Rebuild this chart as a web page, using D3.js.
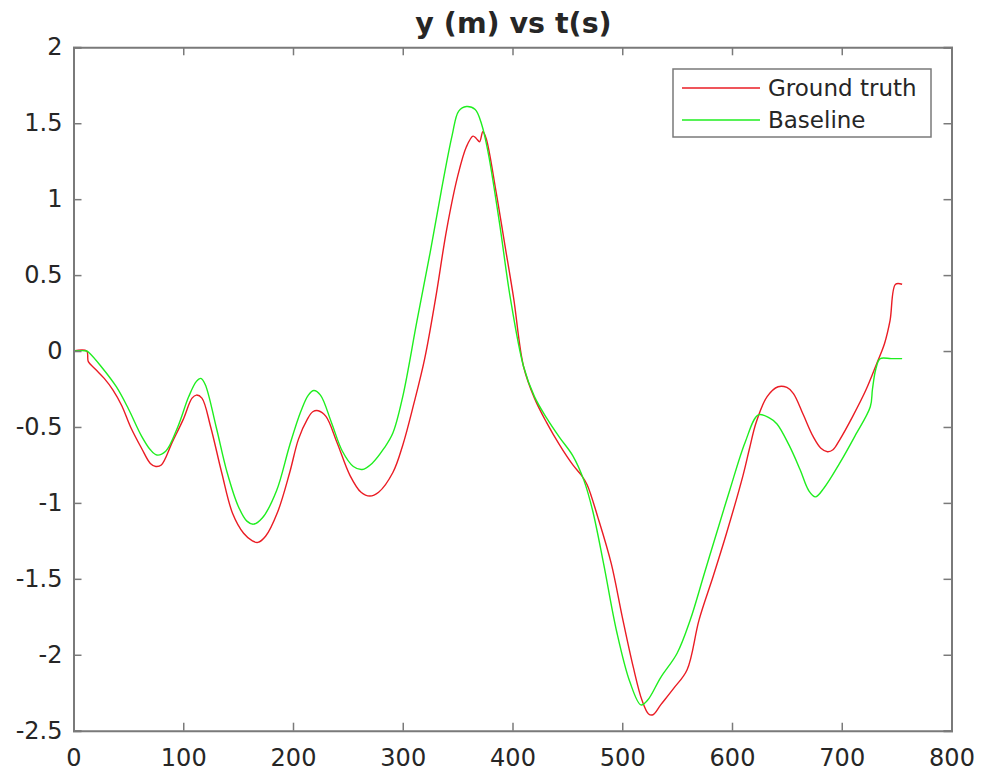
<!DOCTYPE html>
<html>
<head>
<meta charset="utf-8">
<script src="https://cdn.jsdelivr.net/npm/d3@7"></script>
<style>
  body { margin: 0; background: #fff; }
  svg text { font-family: "DejaVu Sans", sans-serif; fill: #262626; }
</style>
</head>
<body>
<svg width="982" height="775"></svg>
<script>
// values
const truthT = [0, 12, 13.5, 20, 28, 36, 44, 52, 62, 70, 75, 80, 90, 100, 108, 112, 117, 125, 135, 145, 155, 163, 168, 175, 186, 197, 205, 213, 218, 223, 230, 240, 252, 262, 270, 278, 291, 300, 310, 320, 330, 340, 350, 358, 364, 367, 370, 373, 376, 385, 393, 401, 410, 420, 431, 443, 455, 463, 468, 478, 490, 500, 510, 518, 524, 528, 535, 547, 559, 570, 583, 595, 610, 616, 622, 632, 642, 650, 656, 665, 674, 681, 687, 692, 698, 710, 722, 732, 739, 744, 749, 755];
const truthY = [0, 0, -0.07, -0.12, -0.18, -0.257, -0.36, -0.5, -0.64, -0.74, -0.76, -0.75, -0.6, -0.45, -0.31, -0.29, -0.31, -0.5, -0.8, -1.07, -1.2, -1.25, -1.26, -1.22, -1.06, -0.8, -0.58, -0.45, -0.4, -0.393, -0.43, -0.6, -0.82, -0.93, -0.955, -0.93, -0.8, -0.62, -0.35, -0.05, 0.35, 0.8, 1.15, 1.345, 1.415, 1.4, 1.378, 1.444, 1.4, 1.05, 0.7, 0.35, -0.1, -0.31, -0.47, -0.62, -0.75, -0.82, -0.88, -1.1, -1.4, -1.75, -2.08, -2.3, -2.39, -2.395, -2.33, -2.22, -2.1, -1.77, -1.48, -1.2, -0.82, -0.64, -0.47, -0.3, -0.235, -0.24, -0.28, -0.42, -0.564, -0.64, -0.663, -0.65, -0.586, -0.43, -0.257, -0.08, 0.05, 0.2, 0.44, 0.44];

const baseT = [0, 12, 14, 25, 39, 50, 62, 70, 76, 84, 95, 105, 112, 116, 120, 130, 140, 150, 158, 164, 172, 185, 197, 207, 214, 219, 225, 235, 245, 255, 263, 272, 283, 291, 300, 313, 325, 335, 345, 351, 358, 366, 372, 378, 388, 398, 410, 420, 431, 443, 455, 465, 473, 483, 495, 507, 517, 523, 535, 550, 562, 575, 588, 598, 612, 624, 634, 641, 652, 662, 670, 676, 684, 698, 712, 726, 728, 731, 735, 745, 755];
const baseY = [0, 0, -0.01, -0.1, -0.235, -0.38, -0.56, -0.65, -0.685, -0.66, -0.5, -0.3, -0.2, -0.18, -0.22, -0.5, -0.8, -1.02, -1.12, -1.14, -1.1, -0.92, -0.62, -0.4, -0.29, -0.26, -0.29, -0.47, -0.66, -0.76, -0.78, -0.74, -0.64, -0.54, -0.3, 0.2, 0.65, 1.05, 1.42, 1.58, 1.61, 1.59, 1.49, 1.3, 0.85, 0.35, -0.1, -0.3, -0.44, -0.57, -0.69, -0.85, -1.05, -1.4, -1.85, -2.18, -2.33, -2.3, -2.15, -1.99, -1.77, -1.46, -1.15, -0.915, -0.6, -0.42, -0.44, -0.48, -0.62, -0.78, -0.92, -0.96, -0.9, -0.74, -0.56, -0.367, -0.25, -0.12, -0.05, -0.05, -0.05];

const xTicks = [0, 100, 200, 300, 400, 500, 600, 700, 800];
const yTicks = [-2.5, -2, -1.5, -1, -0.5, 0, 0.5, 1, 1.5, 2];

const series = [
  { name: "Ground truth", t: truthT, y: truthY, color: "#ea1c24" },
  { name: "Baseline", t: baseT, y: baseY, color: "#1fee1f" }
];

const svg = d3.select("svg");
const plotL = 73.5, plotR = 951.5, plotT = 47.3, plotB = 730.7;

const x = d3.scaleLinear().domain([0, 800]).range([plotL, plotR]);
const y = d3.scaleLinear().domain([-2.5, 2]).range([plotB, plotT]);

// lines
const line = d3.line()
  .x(d => x(d[0]))
  .y(d => y(d[1]))
  .curve(d3.curveCatmullRom.alpha(0.5));

svg.append("g").selectAll("path")
  .data(series)
  .enter()
  .append("path")
  .attr("d", s => line(s.t.map((t, i) => [t, s.y[i]])))
  .attr("fill", "none")
  .attr("stroke", s => s.color)
  .attr("stroke-width", 1.4);

// axes (matlab box style, ticks inward)
const axisColor = "#7a7a7a";
const xAxisB = svg.append("g").attr("transform", "translate(0," + plotB + ")")
  .call(d3.axisBottom(x).tickValues(xTicks).tickSize(-8).tickPadding(18).tickFormat(d3.format("d")));
const xAxisT = svg.append("g").attr("transform", "translate(0," + plotT + ")")
  .call(d3.axisTop(x).tickValues(xTicks).tickSize(-8).tickFormat(""));
const yAxisL = svg.append("g").attr("transform", "translate(" + plotL + ",0)")
  .call(d3.axisLeft(y).tickValues(yTicks).tickSize(-8).tickPadding(11).tickFormat(d => d));
const yAxisR = svg.append("g").attr("transform", "translate(" + plotR + ",0)")
  .call(d3.axisRight(y).tickValues(yTicks).tickSize(-8).tickFormat(""));

[xAxisB, xAxisT, yAxisL, yAxisR].forEach(g => {
  g.select(".domain").attr("stroke", axisColor).attr("stroke-width", 2);
  g.selectAll(".tick line").attr("stroke", axisColor).attr("stroke-width", 1.5);
  g.selectAll(".tick text").attr("font-size", 24).attr("fill", "#262626")
    .style("font-family", "DejaVu Sans, sans-serif");
});

// title
svg.append("text")
  .attr("x", 513.5)
  .attr("y", 33)
  .attr("text-anchor", "middle")
  .attr("font-size", 28.5)
  .attr("font-weight", "bold")
  .text("y (m) vs t(s)");

// legend
const legend = svg.append("g");
legend.append("rect")
  .attr("x", 673).attr("y", 69)
  .attr("width", 258).attr("height", 68)
  .attr("fill", "#fff")
  .attr("stroke", axisColor)
  .attr("stroke-width", 1.5);
const items = legend.selectAll("g.item")
  .data(series)
  .enter()
  .append("g")
  .attr("class", "item")
  .attr("transform", (d, i) => "translate(0," + (88 + i * 32) + ")");
items.append("line")
  .attr("x1", 682).attr("x2", 760)
  .attr("stroke", d => d.color)
  .attr("stroke-width", 1.4);
items.append("text")
  .attr("x", 768)
  .attr("y", 8)
  .attr("font-size", 23)
  .text(d => d.name);
</script>
</body>
</html>
